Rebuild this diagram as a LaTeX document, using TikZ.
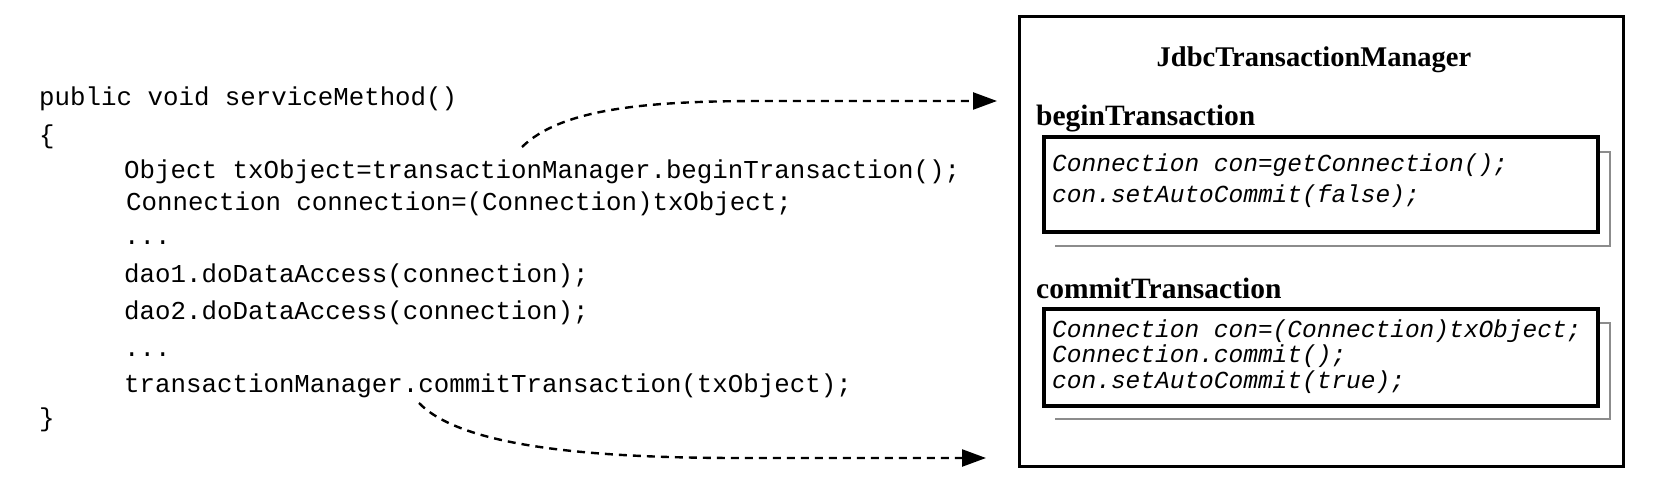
\documentclass[tikz,border=0pt]{standalone}
\usepackage{fontspec}
\setmainfont{Liberation Serif}
\newfontfamily\codefont{Liberation Mono}
\usetikzlibrary{arrows.meta}
\tikzset{
  codeline/.style={anchor=base west, inner sep=0pt, font=\codefont\fontsize{25.8}{30}\selectfont},
  itcode/.style={anchor=base west, inner sep=0pt, font=\codefont\itshape\fontsize{24.5}{30}\selectfont},
  titletext/.style={anchor=base, inner sep=0pt, font=\bfseries\fontsize{28.5}{34}\selectfont},
  labeltext/.style={anchor=base west, inner sep=0pt, font=\bfseries\fontsize{29.5}{35}\selectfont},
  outerbox/.style={draw, line width=2.6pt},
  innerbox/.style={draw, line width=3.6pt},
  shadowline/.style={draw=black!45, line width=1.4pt},
  callarrow/.style={line width=2.4pt, dash pattern=on 8pt off 6pt,
    -{Triangle[length=24pt,width=17pt]}},
}
\begin{document}
\begin{tikzpicture}[x=1pt,y=-1pt]
\useasboundingbox (0,0) rectangle (1672,492);
% left code
\node[codeline] (l1) at (39,106) {public void serviceMethod()};
\node[codeline] (l2) at (39,143) {\{};
\node[codeline] (l3) at (124,178) {Object txObject=transactionManager.beginTransaction();};
\node[codeline] (l4) at (126,210) {Connection connection=(Connection)txObject;};
\node[codeline] (l5) at (124,244) {...};
\node[codeline] (l6) at (124,282) {dao1.doDataAccess(connection);};
\node[codeline] (l7) at (124,319) {dao2.doDataAccess(connection);};
\node[codeline] (l8) at (124,356) {...};
\node[codeline] (l9) at (124,392) {transactionManager.commitTransaction(txObject);};
\node[codeline] (l10) at (39,426) {\}};
% right box
\node[outerbox, minimum width=604pt, minimum height=450pt, anchor=north west, inner sep=0pt] (mgr) at (1018,15) {};
\node[titletext] (title) at (1314,67) {JdbcTransactionManager};
\node[labeltext] (beginlbl) at (1036,126) {beginTransaction};
% shadow of begin box
\draw[shadowline] (1600,152) -- (1610,152) -- (1610,246) -- (1055,246);
\node[innerbox, fill=white, minimum width=554pt, minimum height=95pt, anchor=north west, inner sep=0pt] (beginbox) at (1042,135) {};
\node[itcode] (b1) at (1052,171) {Connection con=getConnection();};
\node[itcode] (b2) at (1052,202) {con.setAutoCommit(false);};
\node[labeltext] (commitlbl) at (1036,298) {commitTransaction};
\draw[shadowline] (1600,323) -- (1610,323) -- (1610,419) -- (1055,419);
\node[innerbox, fill=white, minimum width=554pt, minimum height=97pt, anchor=north west, inner sep=0pt] (commitbox) at (1042,307) {};
\node[itcode] (c1) at (1052,337) {Connection con=(Connection)txObject;};
\node[itcode] (c2) at (1052,362) {Connection.commit();};
\node[itcode] (c3) at (1052,388) {con.setAutoCommit(true);};
% connectors
\coordinate (s1) at (522,147);
\coordinate (t1) at (997,101);
\coordinate (s2) at (419,403);
\coordinate (t2) at (986,458);
\draw[callarrow] (s1) .. controls (560,110) and (640,101) .. (760,101) -- (t1);
\draw[callarrow] (s2) .. controls (460,445) and (580,458) .. (740,458) -- (t2);
\end{tikzpicture}
\end{document}
